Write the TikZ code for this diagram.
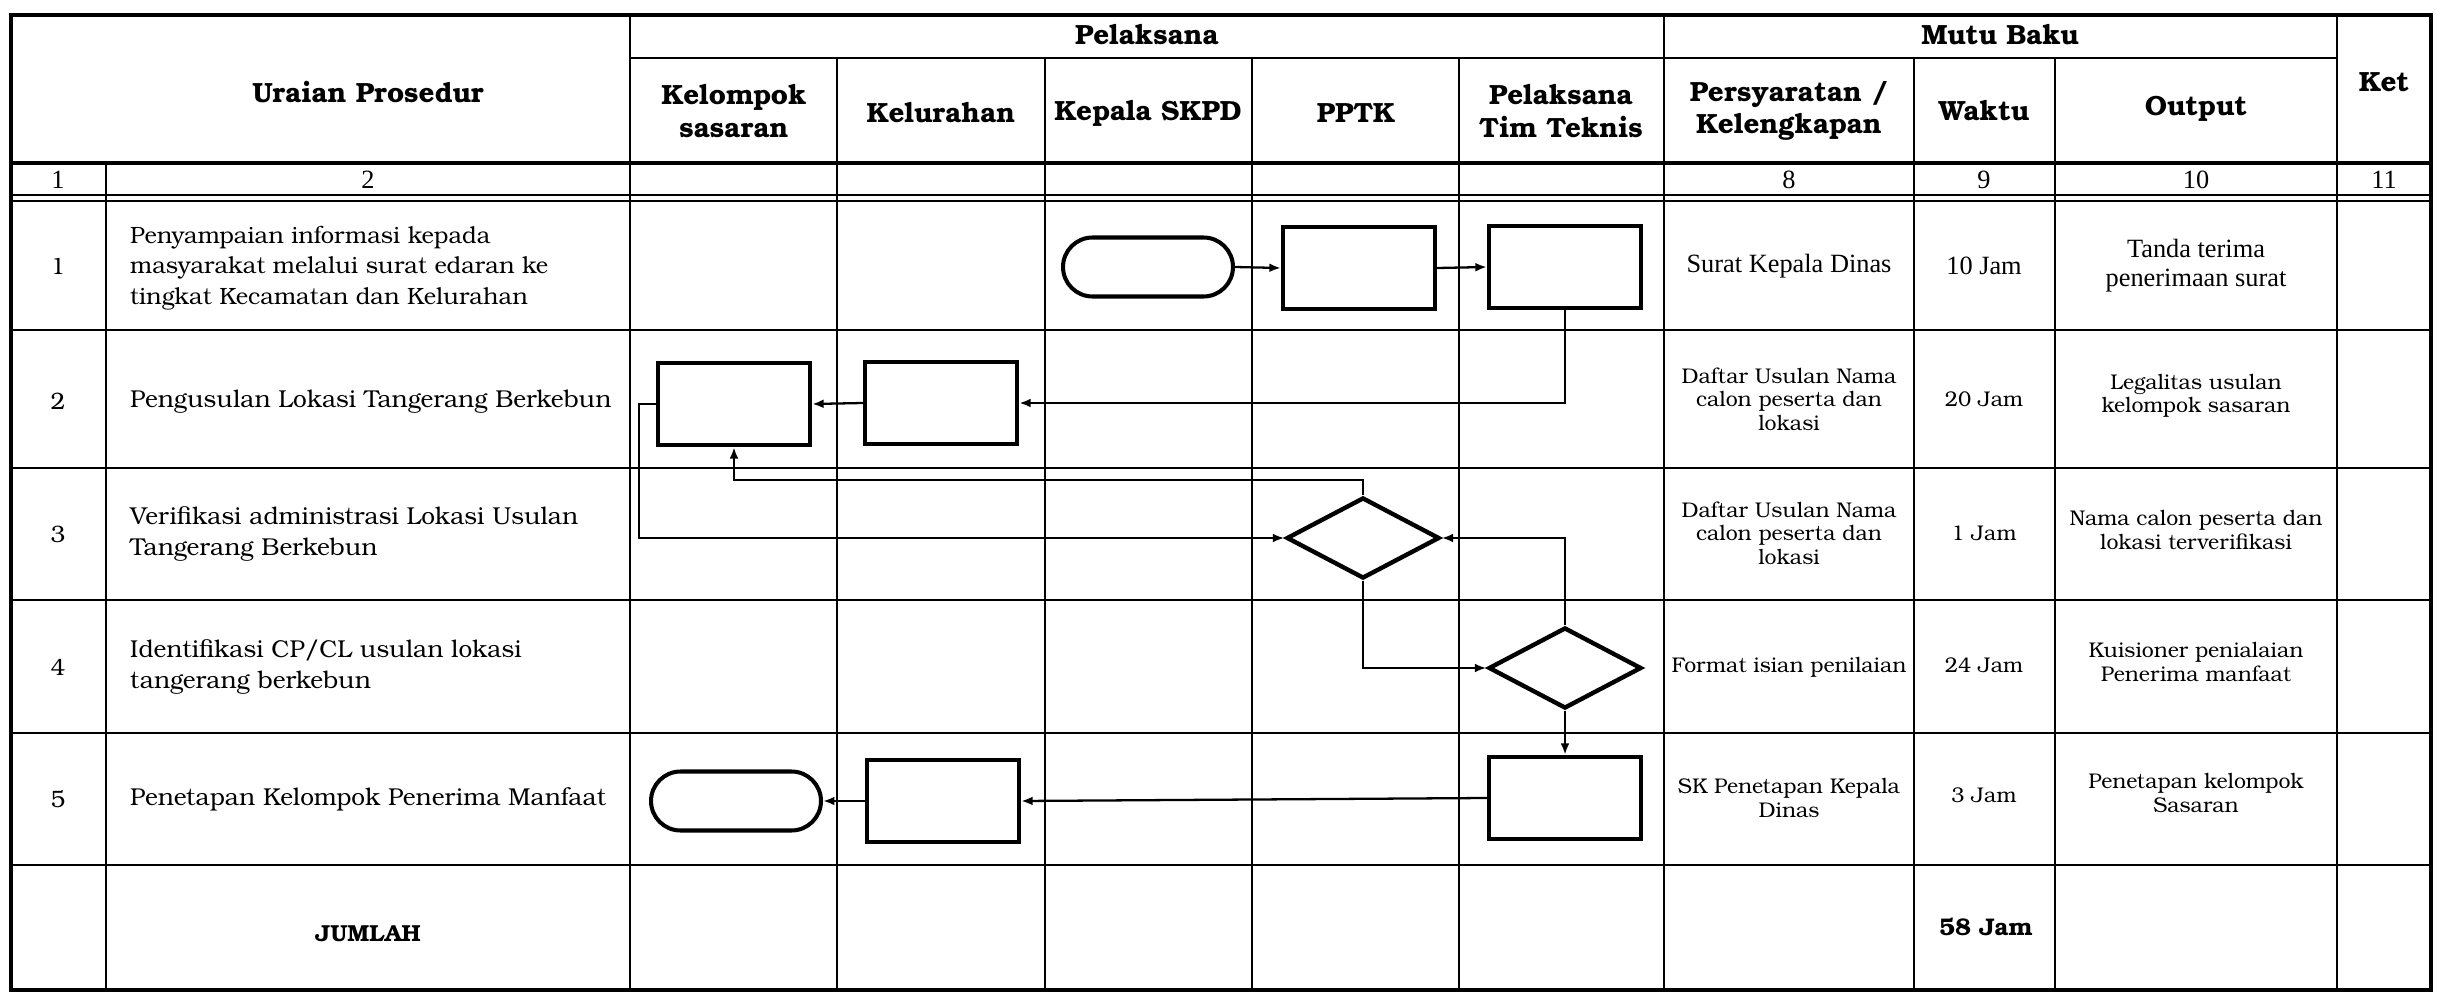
\documentclass[tikz,border=0pt]{standalone}
\usepackage{fontspec}
\setmainfont{TeX Gyre Bonum}
\newfontfamily\tnr{Liberation Serif}
\usetikzlibrary{shapes.geometric,shapes.misc,arrows.meta}
\tikzset{
  grid/.style={line width=1.5pt},
  frame/.style={line width=2.4pt},
  hd/.style={font=\bfseries\fontsize{15.8}{18.5}\selectfont, align=center},
  desc/.style={font=\fontsize{13.9}{17.2}\selectfont, align=left, anchor=west},
  rnum/.style={font=\fontsize{13.5}{15}\selectfont},
  tms/.style={font=\tnr\fontsize{15}{16.5}\selectfont, align=center},
  mb/.style={font=\fontsize{12.1}{13.4}\selectfont, align=center},
  procbox/.style={draw, line width=2.5pt, rectangle, inner sep=0pt, minimum width=3.04cm, minimum height=1.64cm},
  termbox/.style={draw, line width=2.3pt, rounded rectangle, inner sep=0pt, minimum width=3.4cm, minimum height=1.18cm},
  decbox/.style={draw, line width=2.5pt, diamond, inner sep=0pt, minimum width=3.06cm, minimum height=1.62cm},
  conn/.style={line width=1.3pt, -{Latex[length=6.5pt,width=5pt]}},
}
\begin{document}
\begin{tikzpicture}[x=0.02cm,y=-0.02cm]
\useasboundingbox (0,0) rectangle (2445,993);
% ---------- table grid ----------
\def\Xa{11}\def\Xb{106}\def\Xc{630}\def\Xd{837}\def\Xe{1045}\def\Xf{1252}
\def\Xg{1459}\def\Xh{1664}\def\Xi{1914}\def\Xj{2055}\def\Xk{2337}\def\Xl{2431}
% horizontal lines
\draw[grid] (\Xc,58) -- (\Xk,58);
\draw[frame] (\Xa,163) -- (\Xl,163);
\draw[grid] (\Xa,195) -- (\Xl,195);
\draw[grid] (\Xa,201) -- (\Xl,201);
\foreach \yy in {330,468,600,733,865} \draw[grid] (\Xa,\yy) -- (\Xl,\yy);
% vertical lines
\draw[grid] (\Xb,163) -- (\Xb,990);
\draw[grid] (\Xc,15) -- (\Xc,990);
\foreach \xx in {\Xd,\Xe,\Xf,\Xg,\Xi,\Xj} \draw[grid] (\xx,58) -- (\xx,990);
\draw[grid] (\Xh,15) -- (\Xh,990);
\draw[grid] (\Xk,15) -- (\Xk,990);
% outer frame
\draw[frame] (\Xa,15) rectangle (\Xl,990);
% ---------- header texts ----------
\node[hd] (hUraian) at (368,92) {Uraian Prosedur};
\node[hd] (hPel) at (1147,35) {Pelaksana};
\node[hd] (hMutu) at (2000,35) {Mutu Baku};
\node[hd] (hKs) at (734,111) {Kelompok\\sasaran};
\node[hd] (hKel) at (941,113) {Kelurahan};
\node[hd] (hKep) at (1148,113) {Kepala SKPD};
\node[hd] (hPptk) at (1356,113) {PPTK};
\node[hd] (hTim) at (1561,111) {Pelaksana\\Tim Teknis};
\node[hd] (hPers) at (1789,111) {Persyaratan /\\Kelengkapan};
\node[hd] (hWak) at (1984,111) {Waktu};
\node[hd] (hOut) at (2196,109) {Output};
\node[hd] (hKet) at (2384,82) {Ket};
% number row
\node[tms] (n1) at (58,180) {1};
\node[tms] (n2) at (368,180) {2};
\node[tms] (n8) at (1789,180) {8};
\node[tms] (n9) at (1984,180) {9};
\node[tms] (n10) at (2196,180) {10};
\node[tms] (n11) at (2384,180) {11};
% ---------- rows: number + description ----------
\node[rnum] (r1) at (58,266) {1};
\node[rnum] (r2) at (58,401) {2};
\node[rnum] (r3) at (58,534) {3};
\node[rnum] (r4) at (58,667) {4};
\node[rnum] (r5) at (58,799) {5};
\node[desc, font=\fontsize{13.4}{17.2}\selectfont] (d1t) at (124,268) {Penyampaian informasi kepada\\masyarakat melalui surat edaran ke\\tingkat Kecamatan dan Kelurahan};
\node[desc] (d2t) at (124,402) {Pengusulan Lokasi Tangerang Berkebun};
\node[desc] (d3t) at (124,534) {Verifikasi administrasi Lokasi Usulan\\Tangerang Berkebun};
\node[desc] (d4t) at (124,667) {Identifikasi CP/CL usulan lokasi\\tangerang berkebun};
\node[desc] (d5t) at (124,799) {Penetapan Kelompok Penerima Manfaat};
\node[font=\bfseries\fontsize{13.2}{15}\selectfont] (jml) at (368,934) {JUMLAH};
% ---------- mutu baku ----------
\node[tms] (p1) at (1789,266) {Surat Kepala Dinas};
\node[tms] (w1) at (1984,266) {10 Jam};
\node[tms] (o1) at (2196,266) {Tanda terima\\penerimaan surat};
\node[mb] (p2) at (1789,399) {Daftar Usulan Nama\\calon peserta dan\\lokasi};
\node[mb] (w2) at (1984,399) {20 Jam};
\node[mb] (o2) at (2196,396) {Legalitas usulan\\kelompok sasaran};
\node[mb] (p3) at (1789,533) {Daftar Usulan Nama\\calon peserta dan\\lokasi};
\node[mb] (w3) at (1984,533) {1 Jam};
\node[mb] (o3) at (2196,530) {Nama calon peserta dan\\lokasi terverifikasi};
\node[mb] (p4) at (1789,667) {Format isian penilaian};
\node[mb] (w4) at (1984,665) {24 Jam};
\node[mb] (o4) at (2196,662) {Kuisioner penialaian\\Penerima manfaat};
\node[mb] (p5) at (1789,798) {SK Penetapan Kepala\\Dinas};
\node[mb] (w5) at (1984,795) {3 Jam};
\node[mb] (o5) at (2196,793) {Penetapan kelompok\\Sasaran};
\node[font=\bfseries\fontsize{13.7}{15}\selectfont] (wt) at (1986,927) {58 Jam};
% ---------- flow shapes ----------
\node[termbox] (term1) at (1148,267) {};
\node[procbox] (pptk1) at (1359,268) {};
\node[procbox] (tt1) at (1565,267) {};
\node[procbox] (ks2) at (734,404) {};
\node[procbox] (kel2) at (941,403) {};
\node[decbox] (dec1) at (1363,538) {};
\node[decbox] (dec2) at (1565,668) {};
\node[termbox] (term5) at (736,801) {};
\node[procbox] (kel5) at (943,801) {};
\node[procbox] (tt5) at (1565,798) {};
% ---------- connectors ----------
\draw[conn] (term1.east) -- (pptk1.west);
\draw[conn] (pptk1.east) -- (tt1.west);
\draw[conn] (tt1.south) |- (kel2.east);
\draw[conn] (kel2.west) -- (ks2.east);
\draw[conn] (ks2.west) -- ++(-17,0) |- (dec1.west);
\draw[conn] (dec1.north) -- ++(0,-15) -| (ks2.south);
\draw[conn] (dec1.south) |- (dec2.west);
\draw[conn] (dec2.north) |- (dec1.east);
\draw[conn] (dec2.south) -- (tt5.north);
\draw[conn] (tt5.west) -- (kel5.east);
\draw[conn] (kel5.west) -- (term5.east);
\end{tikzpicture}
\end{document}
